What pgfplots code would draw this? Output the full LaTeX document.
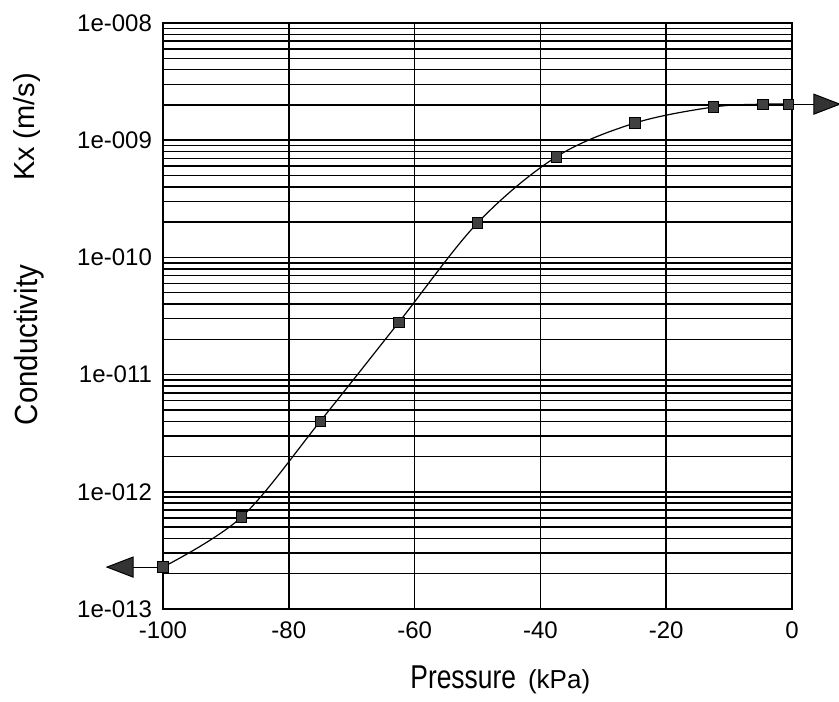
\documentclass[border=0pt]{standalone}
\usepackage{pgfplots}
\pgfplotsset{compat=1.18}
\usepackage{graphicx}
\usepackage{fontspec}
\setmainfont{Liberation Sans}
\pgfdeclareplotmark{ltri}{%
  \pgfpathmoveto{\pgfpoint{0pt}{0pt}}%
  \pgfpathlineto{\pgfpoint{13pt}{5pt}}%
  \pgfpathlineto{\pgfpoint{13pt}{-5pt}}%
  \pgfpathclose\pgfusepathqfillstroke}
\pgfdeclareplotmark{rtri}{%
  \pgfpathmoveto{\pgfpoint{0pt}{0pt}}%
  \pgfpathlineto{\pgfpoint{-13pt}{5pt}}%
  \pgfpathlineto{\pgfpoint{-13pt}{-5pt}}%
  \pgfpathclose\pgfusepathqfillstroke}
\begin{document}
\begin{tikzpicture}
\useasboundingbox (-81.5pt,-46pt) rectangle (338pt,304.5pt);
\begin{axis}[
  scale only axis,
  width=314.5pt, height=293pt,
  xmin=-100, xmax=0,
  ymin=1e-13, ymax=1e-8,
  ymode=log,
  clip=false,
  axis line style={black, line width=0.9pt},
  xtick={-100,-80,-60,-40,-20,0},
  xticklabels={-100,-80,-60,-40,-20,0},
  ytick={1e-13,1e-12,1e-11,1e-10,1e-9,1e-8},
  yticklabels={1e-013,1e-012,1e-011,1e-010,1e-009,1e-008},
  xmajorgrids, ymajorgrids, yminorgrids,
  major grid style={black, line width=0.8pt},
  minor grid style={black, line width=0.75pt},
  major tick length=0pt, minor tick length=0pt,
  tick label style={font=\fontsize{12}{14}\selectfont},
  xticklabel style={yshift=-3pt},
  yticklabel style={xshift=-2pt},
]
\addplot[black, line width=0.6pt, smooth, tension=0.55,
  mark=square*, mark size=2.6pt,
  mark options={fill=gray!50!black, draw=black, line width=0.4pt}]
  coordinates {
  (-100,2.28e-13)
  (-87.5,6.1e-13)
  (-75,4.0e-12)
  (-62.5,2.8e-11)
  (-50,1.97e-10)
  (-37.5,7.2e-10)
  (-25,1.40e-9)
  (-12.5,1.92e-9)
  (-4.6,2.03e-9)
  (-0.6,2.03e-9)
  };
\addplot[black, line width=0.5pt, mark=ltri, mark indices={1},
  mark options={fill=gray!40!black, draw=black, line width=0.5pt}]
  coordinates {(-108.9,2.28e-13) (-100,2.28e-13)};
\addplot[black, line width=0.5pt, mark=rtri, mark indices={2},
  mark options={fill=gray!40!black, draw=black, line width=0.5pt}]
  coordinates {(-0.6,2.03e-9) (7.6,2.03e-9)};
\end{axis}
\node[rotate=90, anchor=center] at (-67pt,132pt)
  {\scalebox{0.92}[1]{\fontsize{16}{18}\selectfont Conductivity}};
\node[rotate=90, anchor=center] at (-68pt,241pt)
  {\fontsize{14.5}{16}\selectfont Kx (m/s)};
\node[anchor=base west, inner sep=0pt] at (123.5pt,-39.5pt)
  {\scalebox{0.8}[1]{\fontsize{16.5}{18}\selectfont Pressure}\hspace{6pt}{\fontsize{13}{15}\selectfont (kPa)}};
\end{tikzpicture}
\end{document}
